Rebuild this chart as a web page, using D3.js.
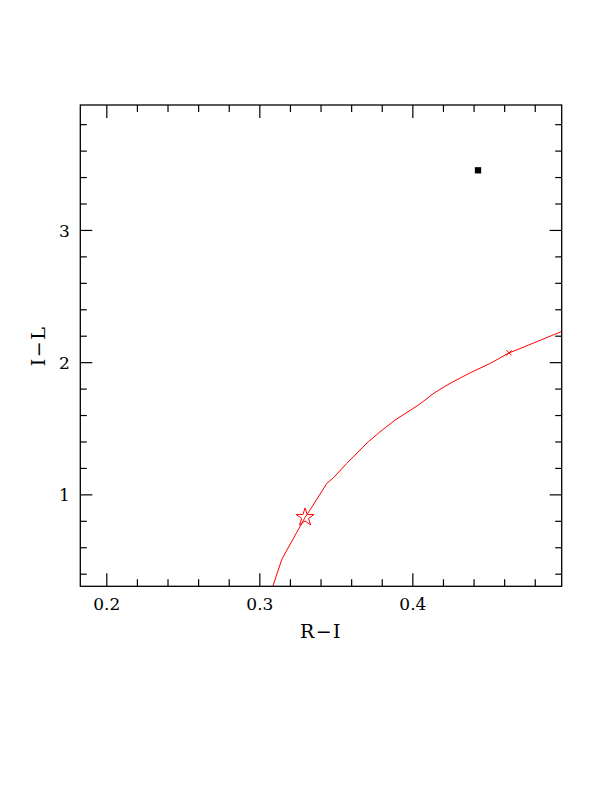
<!DOCTYPE html>
<html>
<head>
<meta charset="utf-8">
<script src="https://cdn.jsdelivr.net/npm/d3@7"></script>
<style>
  html, body { margin: 0; padding: 0; background: #fff; }
  svg { display: block; }
</style>
</head>
<body>
<svg id="chart" width="612" height="792"></svg>
<script>
// ---- data ----
const xDomain = [0.183, 0.4976];
const yDomain = [0.3046, 3.945];
const xMajorTicks = [0.2, 0.3, 0.4];
const xTickLabels = ["0.2", "0.3", "0.4"];
const xMinorTicks = [0.22, 0.24, 0.26, 0.28, 0.32, 0.34, 0.36, 0.38, 0.42, 0.44, 0.46, 0.48];
const yMajorTicks = [1, 2, 3];
const yTickLabels = ["1", "2", "3"];
const yMinorTicks = [0.4, 0.6, 0.8, 1.2, 1.4, 1.6, 1.8, 2.2, 2.4, 2.6, 2.8, 3.2, 3.4, 3.6, 3.8];

// red model curve
const curveRI = [0.3075, 0.3088, 0.3148, 0.3299, 0.3338, 0.3441, 0.3484, 0.3571, 0.3712, 0.3789, 0.3887, 0.4039, 0.4148, 0.4246, 0.4377, 0.4508, 0.4632, 0.4693, 0.4976, 0.5];
const curveIL = [0.26, 0.305, 0.511, 0.826, 0.894, 1.083, 1.125, 1.234, 1.398, 1.473, 1.562, 1.675, 1.771, 1.839, 1.919, 1.990, 2.070, 2.098, 2.232, 2.243];

// markers
const starRI = [0.3299], starIL = [0.826];
const crossRI = [0.4632], crossIL = [2.070];
const squareRI = [0.4429], squareIL = [3.451];

const xTitle = "R\u2212I";
const yTitle = "I\u2212L";

// ---- layout ----
const pL = 80.3, pR = 561.7, pT = 105, pB = 586.3;
const svg = d3.select("#chart");
const x = d3.scaleLinear().domain(xDomain).range([pL, pR]);
const y = d3.scaleLinear().domain(yDomain).range([pB, pT]);
const font = "'DejaVu Serif', serif";

// clip
svg.append("defs").append("clipPath").attr("id", "clip")
  .append("rect").attr("x", pL).attr("y", pT).attr("width", pR - pL).attr("height", pB - pT);

// curve
const line = d3.line().x((d, i) => x(curveRI[i])).y((d, i) => y(curveIL[i]));
svg.append("path").datum(curveRI).attr("d", line)
  .attr("fill", "none").attr("stroke", "#ff0000").attr("stroke-width", 1)
  .attr("clip-path", "url(#clip)");

// star
svg.append("path")
  .attr("d", d3.symbol(d3.symbolStar, 100)())
  .attr("transform", `translate(${x(starRI[0])},${y(starIL[0])})`)
  .attr("fill", "none").attr("stroke", "#ff0000").attr("stroke-width", 1);

// cross marker
const c = 2.6;
const cx = x(crossRI[0]), cy = y(crossIL[0]);
svg.append("path")
  .attr("d", `M${cx - c},${cy - c}L${cx + c},${cy + c}M${cx - c},${cy + c}L${cx + c},${cy - c}`)
  .attr("stroke", "#ff0000").attr("stroke-width", 1);

// filled square
svg.append("path")
  .attr("d", d3.symbol(d3.symbolSquare, 40)())
  .attr("transform", `translate(${x(squareRI[0])},${y(squareIL[0])})`)
  .attr("fill", "#000");

// ---- axes (ticks inward) ----
function addAxis(axis, tx, ty) {
  const g = svg.append("g").attr("transform", `translate(${tx},${ty})`).call(axis);
  g.select(".domain").remove();
  g.selectAll(".tick line").attr("stroke", "#000").attr("stroke-width", 1.2);
  return g;
}
// bottom
const gb = addAxis(d3.axisBottom(x).tickValues(xMajorTicks).tickSize(-13)
  .tickFormat((d, i) => xTickLabels[i]), 0, pB);
gb.selectAll(".tick text").attr("y", 23.7).attr("dy", 0)
  .attr("font-family", font).attr("font-size", 17).attr("fill", "#000");
addAxis(d3.axisBottom(x).tickValues(xMinorTicks).tickSize(-7).tickFormat(""), 0, pB);
// top
addAxis(d3.axisTop(x).tickValues(xMajorTicks).tickSize(-13).tickFormat(""), 0, pT);
addAxis(d3.axisTop(x).tickValues(xMinorTicks).tickSize(-7).tickFormat(""), 0, pT);
// left
const gl = addAxis(d3.axisLeft(y).tickValues(yMajorTicks).tickSize(-12)
  .tickFormat((d, i) => yTickLabels[i]), pL, 0);
gl.selectAll(".tick text").attr("x", -10.5).attr("dy", "0.36em")
  .attr("font-family", font).attr("font-size", 17).attr("fill", "#000");
addAxis(d3.axisLeft(y).tickValues(yMinorTicks).tickSize(-6.5).tickFormat(""), pL, 0);
// right
addAxis(d3.axisRight(y).tickValues(yMajorTicks).tickSize(-12).tickFormat(""), pR, 0);
addAxis(d3.axisRight(y).tickValues(yMinorTicks).tickSize(-6.5).tickFormat(""), pR, 0);

// frame
svg.append("rect").attr("x", pL).attr("y", pT)
  .attr("width", pR - pL).attr("height", pB - pT)
  .attr("fill", "none").attr("stroke", "#000").attr("stroke-width", 1.3);

// titles
svg.append("text").attr("x", (pL + pR) / 2).attr("y", 638.3)
  .attr("text-anchor", "middle").attr("font-family", font).attr("font-size", 19)
  .attr("letter-spacing", 1.5).text(xTitle);
svg.append("text")
  .attr("transform", `translate(44.5,346) rotate(-90)`)
  .attr("text-anchor", "middle").attr("font-family", font).attr("font-size", 19)
  .attr("letter-spacing", 1.5).text(yTitle);
</script>
</body>
</html>
